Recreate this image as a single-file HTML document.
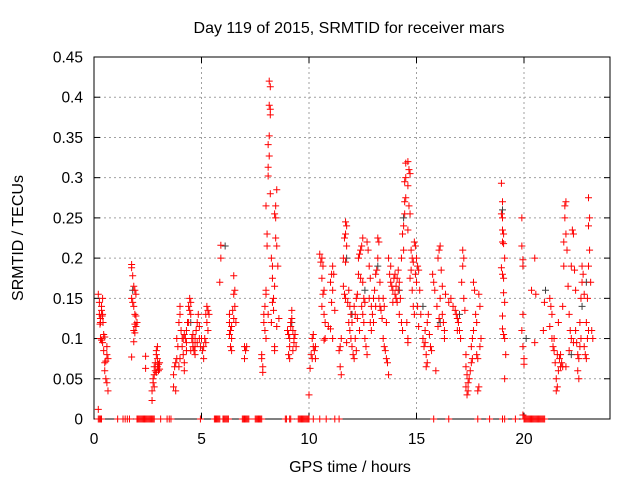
<!DOCTYPE html>
<html><head><meta charset="utf-8"><style>
body{margin:0;background:#fff}
svg{display:block;font-family:"Liberation Sans",sans-serif}
</style></head><body>
<svg id="chart" width="640" height="480" xmlns="http://www.w3.org/2000/svg">
<rect width="640" height="480" fill="#fff"/>
<g id="grid"></g>
<g id="axes"></g>
<g id="pts"></g>
<text x="349" y="33" font-size="16" text-anchor="middle">Day 119 of 2015, SRMTID for receiver mars</text>
<text x="350" y="472" font-size="16" text-anchor="middle">GPS time / hours</text>
<text transform="translate(23,238) rotate(-90)" font-size="16" text-anchor="middle">SRMTID / TECUs</text>
</svg>
<script>
const xTicks=[0,5,10,15,20];
const yTicks=[0,0.05,0.1,0.15,0.2,0.25,0.3,0.35,0.4,0.45];
const yTickLabels=["0","0.05","0.1","0.15","0.2","0.25","0.3","0.35","0.4","0.45"];
const redPoints=[
[0.2,0.155],[0.25,0.145],[0.25,0.13],[0.3,0.125],[0.3,0.12],[0.35,0.135],[0.35,0.14],[0.4,0.13],[0.4,0.15],[0.3,0.1],[0.35,0.098],[0.4,0.095],[0.45,0.105],[0.5,0.102],[0.45,0.085],[0.5,0.07],[0.55,0.072],[0.5,0.06],[0.55,0.05],[0.6,0.045],[0.65,0.035],[0.6,0.08],[0.65,0.075],[0.6,0.09],[0.2,0.012],[0.28,0.118],[0.38,0.128],[0.42,0.12],
[1.75,0.192],[1.75,0.188],[1.8,0.178],[1.85,0.165],[1.9,0.16],[1.75,0.15],[1.8,0.145],[1.85,0.14],[1.9,0.13],[1.95,0.128],[1.9,0.118],[1.95,0.115],[1.85,0.11],[1.9,0.107],[1.85,0.096],[1.75,0.077],[2.0,0.12],[1.95,0.155],
[2.4,0.078],[2.4,0.063],[2.7,0.023],[2.7,0.035],[2.75,0.045],[2.75,0.05],[2.8,0.055],[2.8,0.065],[2.85,0.07],[2.85,0.06],[2.9,0.08],[2.9,0.085],[2.95,0.09],[2.95,0.075],[3.0,0.068],[3.0,0.06],[3.05,0.062],[2.8,0.04],[2.9,0.058],[3.05,0.07],[2.95,0.065],
[3.7,0.055],[3.7,0.04],[3.8,0.035],[3.75,0.065],[3.8,0.07],[3.85,0.075],[3.9,0.09],[3.85,0.1],[3.95,0.12],[4.0,0.13],[4.0,0.14],[4.05,0.11],[4.1,0.1],[4.1,0.09],[4.15,0.08],[4.2,0.07],[4.2,0.06],[4.25,0.1],[4.3,0.11],[4.35,0.12],[4.4,0.14],[4.45,0.15],[4.5,0.145],[4.5,0.13],[4.55,0.1],[4.6,0.09],[4.6,0.095],[4.65,0.085],[4.7,0.08],[4.7,0.1],[4.75,0.11],[4.8,0.12],[4.85,0.13],[4.9,0.1],[4.95,0.09],[5.0,0.1],[5.05,0.085],[5.1,0.075],[5.15,0.1],[5.2,0.13],[5.25,0.14],[5.3,0.135],[5.25,0.12],[5.3,0.11],[5.35,0.13],[5.2,0.095],[5.1,0.09],[4.4,0.12],[4.3,0.095],[4.0,0.075],[3.95,0.065],[4.45,0.135],[4.9,0.115],[4.15,0.1],[4.5,0.085],[4.6,0.105],[4.7,0.09],[4.8,0.095],[4.3,0.085],[4.2,0.105],
[5.9,0.216],[5.9,0.2],[5.85,0.17],[6.3,0.13],[6.3,0.12],[6.35,0.11],[6.4,0.1],[6.4,0.085],[6.35,0.09],[6.45,0.135],[6.5,0.155],[6.55,0.16],[6.5,0.178],[6.55,0.14],[6.6,0.12],[6.4,0.115],[6.5,0.125],[6.3,0.105],
[7.0,0.09],[7.05,0.085],[7.0,0.075],[7.1,0.09],
[7.8,0.08],[7.8,0.075],[7.85,0.065],[7.85,0.058],[7.9,0.13],[7.9,0.12],[7.95,0.14],[8.0,0.16],[8.0,0.155],[7.95,0.11],[8.0,0.1],[8.05,0.23],[8.05,0.215],[8.0,0.265],[8.1,0.302],[8.1,0.313],[8.15,0.327],[8.1,0.341],[8.15,0.352],[8.2,0.378],[8.2,0.385],[8.15,0.39],[8.2,0.413],[8.15,0.42],[8.2,0.28],[8.25,0.2],[8.3,0.19],[8.3,0.175],[8.3,0.145],[8.35,0.135],[8.35,0.15],[8.4,0.165],[8.4,0.255],[8.45,0.25],[8.45,0.265],[8.5,0.285],[8.45,0.225],[8.5,0.215],[8.55,0.19],[8.5,0.115],[8.4,0.09],[8.4,0.085],[8.6,0.125],[8.25,0.12],[8.1,0.13],
[9.0,0.11],[9.05,0.105],[9.1,0.1],[9.1,0.09],[9.05,0.08],[9.1,0.075],[9.15,0.12],[9.2,0.125],[9.2,0.135],[9.25,0.11],[9.3,0.1],[9.3,0.095],[9.35,0.105],[9.4,0.09],[9.15,0.115],[9.25,0.085],
[10.0,0.03],[10.05,0.063],[10.1,0.08],[10.15,0.075],[10.2,0.09],[10.25,0.085],[10.3,0.075],[10.15,0.1],[10.2,0.105],[10.3,0.09],
[10.5,0.205],[10.55,0.195],[10.6,0.2],[10.65,0.19],[10.6,0.175],[10.7,0.16],[10.65,0.155],[10.6,0.14],[10.7,0.13],[10.75,0.12],[10.75,0.1],[10.7,0.098],[10.9,0.115],[11.0,0.17],[11.05,0.18],[11.1,0.19],[11.15,0.18],[11.1,0.16],[11.05,0.145],[11.2,0.135],[11.0,0.112],[11.1,0.1],[11.5,0.055],[11.45,0.065],[11.4,0.085],[11.45,0.09],[11.5,0.1],
[11.7,0.245],[11.75,0.24],[11.7,0.23],[11.65,0.225],[11.75,0.215],[11.6,0.2],[11.7,0.195],[11.6,0.165],[11.65,0.155],[11.7,0.15],[11.8,0.145],[11.85,0.16],[11.9,0.14],[11.95,0.13],[11.85,0.12],[11.9,0.11],[11.95,0.1],[12.0,0.09],[12.05,0.08],[12.1,0.075],[11.75,0.095],[12.0,0.12],[12.1,0.14],[12.15,0.13],[12.2,0.15],[12.25,0.155],[12.3,0.2],[12.35,0.205],[12.4,0.21],[12.45,0.215],[12.3,0.18],[12.4,0.175],[12.5,0.17],[12.45,0.14],[12.5,0.13],[12.55,0.12],[12.6,0.1],[12.65,0.09],[12.7,0.08],[12.5,0.225],[12.7,0.22],[12.75,0.21],[12.8,0.19],[12.85,0.175],[12.8,0.15],[12.9,0.14],[12.95,0.13],[13.0,0.12],[12.9,0.11],[13.0,0.15],[13.05,0.16],[13.1,0.18],[13.15,0.185],[13.2,0.225],[13.25,0.22],[13.2,0.2],[13.3,0.17],[13.3,0.14],[13.35,0.135],[13.4,0.125],[13.45,0.1],[13.5,0.09],[13.55,0.085],[13.6,0.075],[13.65,0.07],[13.7,0.055],[13.5,0.14],[13.45,0.15],[13.6,0.12],[12.2,0.085],[12.6,0.145],[12.35,0.11],[12.15,0.1],[12.25,0.125],[12.55,0.15],[12.85,0.12],[13.1,0.14],[13.25,0.15],
[13.7,0.2],[13.8,0.19],[13.75,0.18],[13.8,0.17],[13.85,0.165],[13.9,0.16],[13.95,0.175],[14.0,0.18],[14.0,0.155],[14.05,0.15],[14.1,0.145],[14.1,0.175],[14.15,0.185],[14.2,0.17],[14.25,0.15],[14.2,0.13],[14.3,0.12],[14.35,0.11],[14.3,0.2],[14.4,0.21],[14.35,0.23],[14.4,0.24],[14.45,0.255],[14.45,0.27],[14.5,0.275],[14.45,0.295],[14.5,0.3],[14.5,0.318],[14.6,0.32],[14.65,0.31],[14.7,0.305],[14.6,0.29],[14.65,0.265],[14.7,0.255],[14.6,0.235],[14.75,0.21],[14.8,0.2],[14.85,0.195],[14.9,0.22],[14.95,0.215],[15.0,0.2],[15.05,0.19],[15.0,0.17],[14.7,0.175],[14.8,0.16],[14.85,0.14],[14.55,0.12],[14.6,0.1],[14.6,0.095],[14.9,0.13],[15.1,0.185],[15.15,0.16],[15.2,0.13],[15.05,0.14],[15.1,0.115],[13.9,0.145],[14.05,0.165],[14.15,0.16],[14.75,0.185],[14.95,0.18],
[15.3,0.1],[15.35,0.09],[15.4,0.095],[15.45,0.08],[15.5,0.07],[15.45,0.065],[15.4,0.11],[15.5,0.12],[15.55,0.13],[15.6,0.105],[15.65,0.09],[15.7,0.085],[15.75,0.18],[15.8,0.17],[15.85,0.16],[15.9,0.06],[15.95,0.14],[16.0,0.2],[16.05,0.21],[16.1,0.215],[16.15,0.185],[16.1,0.15],[16.2,0.13],[16.25,0.12],[16.3,0.11],[16.0,0.115],[16.05,0.125],[16.2,0.165],[16.35,0.155],[16.3,0.1],
[16.5,0.145],[16.6,0.15],[16.7,0.14],[16.8,0.135],[16.85,0.13],[16.9,0.125],[16.95,0.12],[17.0,0.11],[17.05,0.1],[17.1,0.17],[17.15,0.21],[17.2,0.2],[17.15,0.19],[17.2,0.15],[17.25,0.135],[17.3,0.08],[17.3,0.065],[17.35,0.055],[17.3,0.04],[17.35,0.03],[17.4,0.045],[17.45,0.05],[17.5,0.06],[17.55,0.07],[17.6,0.075],[17.55,0.09],[17.6,0.1],[17.65,0.11],[17.65,0.17],[17.7,0.16],[17.75,0.13],[17.8,0.12],[17.8,0.08],[17.85,0.075],[17.9,0.04],[17.85,0.035],[17.9,0.155],[17.95,0.14],[18.0,0.1],[17.95,0.09],[17.4,0.035],[16.9,0.11],
[18.95,0.293],[19.0,0.27],[18.95,0.255],[19.0,0.25],[19.0,0.235],[19.05,0.23],[19.0,0.22],[19.05,0.218],[18.95,0.188],[19.0,0.18],[19.05,0.175],[19.1,0.2],[19.05,0.157],[19.1,0.145],[19.0,0.128],[19.0,0.112],[19.05,0.105],[19.1,0.1],[19.15,0.08],[19.1,0.05],
[19.9,0.25],[19.9,0.215],[19.95,0.198],[19.95,0.19],[19.95,0.13],[19.9,0.11],[19.95,0.09],[20.0,0.075],[20.0,0.068],[19.95,0.005],[20.35,0.16],[20.5,0.2],[20.55,0.155],[20.5,0.095],[20.95,0.145],[20.9,0.11],
[21.2,0.15],[21.25,0.14],[21.3,0.13],[21.2,0.115],[21.3,0.1],[21.35,0.09],[21.4,0.085],[21.45,0.07],[21.5,0.05],[21.55,0.04],[21.5,0.035],[21.6,0.06],[21.65,0.075],[21.7,0.08],[21.75,0.07],[21.8,0.065],[21.8,0.14],[21.85,0.19],[21.85,0.22],[21.9,0.25],[21.9,0.265],[21.95,0.27],[21.95,0.23],[22.0,0.21],[22.05,0.165],[22.1,0.13],[22.15,0.11],[22.2,0.1],[22.2,0.19],[22.25,0.235],[22.3,0.23],[22.35,0.185],[22.4,0.16],[22.45,0.095],[22.5,0.08],[22.55,0.075],[22.5,0.06],[22.55,0.05],[22.6,0.12],[22.65,0.15],[22.7,0.17],[22.7,0.19],[22.75,0.18],[22.8,0.155],[22.8,0.09],[22.85,0.08],[22.9,0.075],[22.95,0.1],[23.0,0.11],[22.9,0.12],[22.95,0.15],[23.0,0.19],[23.05,0.21],[23.0,0.24],[23.05,0.25],[23.0,0.275],[23.1,0.17],[23.15,0.11],[23.2,0.1],[22.3,0.095],[22.1,0.085],[21.95,0.065],[21.6,0.12],[22.4,0.11],[21.4,0.1],[21.55,0.08],[21.7,0.065],[22.6,0.09],[22.65,0.1]
];
const grayPoints=[[11.75,0.2],[12.6,0.16],[14.4,0.25],[14.2,0.16],[13.2,0.19],[17.0,0.13],[19.0,0.26],[21.0,0.16],[22.7,0.14],[22.9,0.17],[1.8,0.16],[4.5,0.12],[9.2,0.12],[12.0,0.13],[15.3,0.14],[16.1,0.12],[20.1,0.1],[22.2,0.08],[6.1,0.215]];
const zeroTimes=[0.2,0.25,0.3,0.35,1.1,1.35,1.45,1.55,1.65,2.0,2.05,2.1,2.15,2.2,2.25,2.3,2.35,2.4,2.45,2.5,2.55,2.6,2.65,2.7,2.75,2.8,3.1,3.4,3.5,3.58,4.95,5.6,5.65,5.7,5.75,5.8,5.85,6.0,6.05,6.1,6.15,6.2,6.25,6.9,6.95,7.0,7.05,7.1,7.15,7.2,7.5,7.55,7.6,7.65,7.7,7.75,7.8,8.9,8.95,9.1,9.15,9.5,9.55,9.6,9.65,9.7,9.75,9.8,9.85,9.9,9.95,10.0,10.2,10.5,10.8,11.2,11.4,15.8,16.5,17.85,18.4,19.0,19.1,19.6,20.0,20.05,20.1,20.15,20.2,20.25,20.3,20.35,20.4,20.45,20.5,20.55,20.6,20.65,20.7,20.75,20.8,20.85,20.9,20.96];
const L=94,R=610,T=57,B=419,XMAX=24,YMAX=0.45;
function sx(v){return L+(R-L)*v/XMAX;}
function sy(v){return B-(B-T)*v/YMAX;}
const NS="http://www.w3.org/2000/svg";
function mk(tag,attrs,parent){const e=document.createElementNS(NS,tag);for(const k in attrs)e.setAttribute(k,attrs[k]);parent.appendChild(e);return e;}
const grid=document.getElementById('grid'),axes=document.getElementById('axes'),pts=document.getElementById('pts');
xTicks.forEach(function(t){
  const x=sx(t);
  if(t>0){const g=mk('line',{x1:x,x2:x,y1:T,y2:B,stroke:'#a0a0a0','stroke-dasharray':'2,3'},grid);
  
  }
  mk('line',{x1:x,x2:x,y1:B,y2:B-6,stroke:'#000'},axes);
  mk('line',{x1:x,x2:x,y1:T,y2:T+6,stroke:'#000'},axes);
  const lb=mk('text',{x:x,y:B+25,'font-size':'15.5','text-anchor':'middle'},axes);
  lb.textContent=String(t);
  
  
});
yTicks.forEach(function(t,i){
  const y=sy(t);
  if(t>0&&t<YMAX){const g=mk('line',{x1:L,x2:R,y1:y,y2:y,stroke:'#a0a0a0','stroke-dasharray':'2,3'},grid);
  
  }
  mk('line',{x1:L,x2:L+6,y1:y,y2:y,stroke:'#000'},axes);
  mk('line',{x1:R,x2:R-6,y1:y,y2:y,stroke:'#000'},axes);
  const lb=mk('text',{x:L-11,y:y+5.5,'font-size':'15.5','text-anchor':'end'},axes);
  lb.textContent=yTickLabels[i];
  
  
});
const fr=mk('rect',{x:L,y:T,width:R-L,height:B-T,fill:'none',stroke:'#000','stroke-width':'1'},axes);


function plus(x,y,col,name){
  const p=mk('path',{d:'M'+(x-3.5)+' '+y+'h7M'+x+' '+(y-3.5)+'v7',stroke:col,'stroke-width':'1',fill:'none'},pts);
  
  
}
grayPoints.forEach(function(d){plus(sx(d[0]),sy(d[1]),'#404040','gray-point');});
redPoints.forEach(function(d){plus(sx(d[0]),sy(d[1]),'#ff0000','red-point');});
zeroTimes.forEach(function(t){plus(sx(t),sy(0),'#ff0000','zero-point');});
</script>
</body></html>
